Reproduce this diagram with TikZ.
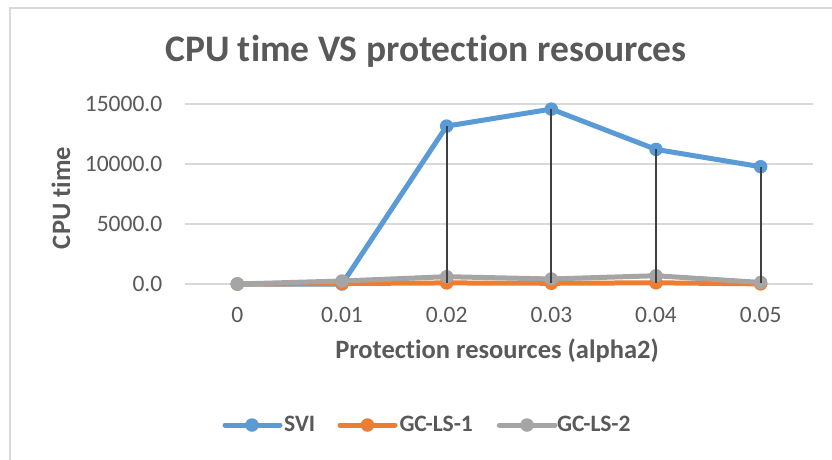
\documentclass[tikz,border=0pt]{standalone}
\usepackage{fontspec}
\setmainfont{Carlito}[Ligatures={NoCommon}]
\definecolor{sviblue}{HTML}{5B9BD5}
\definecolor{gcorange}{HTML}{ED7D31}
\definecolor{gcgray}{HTML}{A5A5A5}
\definecolor{txtgray}{HTML}{595959}
\definecolor{gridgray}{HTML}{D9D9D9}
\definecolor{dropgray}{HTML}{404040}

\begin{document}
\begin{tikzpicture}[x=1pt,y=-1pt,
  series/.style={line width=5pt, line join=round, line cap=round},
  dot/.style={circle, fill=#1, draw=none, inner sep=0pt, minimum size=13.5pt},
  dropline/.style={draw=dropgray, line width=2pt},
  gridline/.style={draw=gridgray, line width=1.5pt},
  charttitle/.style={font=\fontsize{37.5}{44}\selectfont\bfseries, text=txtgray, inner sep=0pt},
  ticklab/.style={font=\fontsize{23.5}{28}\selectfont, text=txtgray, inner sep=0pt},
  axtitle/.style={font=\fontsize{26.5}{31}\selectfont\bfseries, text=txtgray, inner sep=0pt},
  legtext/.style={font=\fontsize{23.5}{28}\selectfont\bfseries, text=txtgray, inner sep=0pt, anchor=base west}]

\useasboundingbox (0,0) rectangle (832,459);
\clip (0,0) rectangle (832,459);
\fill[white] (0,0) rectangle (832,459);

% chart area frame (runs past the right and bottom edges)
\draw[gridgray, line width=2pt] (10,470) -- (10,8) -- (845,8);

% title
\node[charttitle, anchor=base] (title) at (426,61) {CPU time VS protection resources};

% horizontal gridlines and value labels
\foreach \gy/\lab [count=\k] in {104/15000.0,164/10000.0,224/5000.0,284/0.0} {
  \draw[gridline] (185,\gy) -- (813,\gy);
  \node[ticklab, anchor=base east] (ylab\k) at (162.5,\gy+7.6) {\lab};
}

% category labels
\foreach \lab [count=\i from 0] in {0,0.01,0.02,0.03,0.04,0.05}
  \node[ticklab, anchor=base] (xlab\i) at (237.33+104.667*\i,322.3) {\lab};

% axis titles
\node[axtitle, anchor=base] (xtitle) at (497,358.5) {Protection resources (alpha2)};
\node[axtitle, anchor=base, rotate=90] (ytitle) at (70,198) {CPU time};

% data points: x = category index, y = CPU time
\begin{scope}[shift={(237.33pt,-284pt)}, x=104.667pt, y={(0pt,0.012pt)}]
  \foreach \i/\v in {0/0,1/0,2/13167,3/14583,4/11222,5/9778}
    \coordinate (s\i) at (\i,\v);
  \foreach \i/\v in {0/0,1/40,2/90,3/60,4/100,5/10}
    \coordinate (o\i) at (\i,\v);
  \foreach \i/\v in {0/0,1/250,2/610,3/420,4/690,5/130}
    \coordinate (g\i) at (\i,\v);
  \foreach \i in {0,...,5}
    \coordinate (b\i) at (\i,60);
\end{scope}

% SVI
\draw[series, sviblue] (s0) -- (s1) -- (s2) -- (s3) -- (s4) -- (s5);
\foreach \i in {0,...,5} \node[dot=sviblue] (sm\i) at (s\i) {};
% GC-LS-1
\draw[series, gcorange] (o0) -- (o1) -- (o2) -- (o3) -- (o4) -- (o5);
\foreach \i in {0,...,5} \node[dot=gcorange] (om\i) at (o\i) {};
% GC-LS-2
\draw[series, gcgray] (g0) -- (g1) -- (g2) -- (g3) -- (g4) -- (g5);
\foreach \i in {0,...,5} \node[dot=gcgray] (gm\i) at (g\i) {};

% drop lines
\foreach \i in {2,...,5} \draw[dropline] (s\i) -- (b\i);

% legend
\coordinate (l1a) at (225,425); \coordinate (l1b) at (280,425);
\draw[series, sviblue] (l1a) -- (l1b);
\node[dot=sviblue] (lm1) at (252,425) {};
\node[legtext] (lt1) at (284,431.7) {SVI};

\coordinate (l2a) at (340,425); \coordinate (l2b) at (395,425);
\draw[series, gcorange] (l2a) -- (l2b);
\node[dot=gcorange] (lm2) at (367.5,425) {};
\node[legtext] (lt2) at (399.3,431.7) {GC-LS-1};

\coordinate (l3a) at (499.3,425); \coordinate (l3b) at (555,425);
\draw[series, gcgray] (l3a) -- (l3b);
\node[dot=gcgray] (lm3) at (527,425) {};
\node[legtext] (lt3) at (557,431.7) {GC-LS-2};

\end{tikzpicture}
\end{document}
